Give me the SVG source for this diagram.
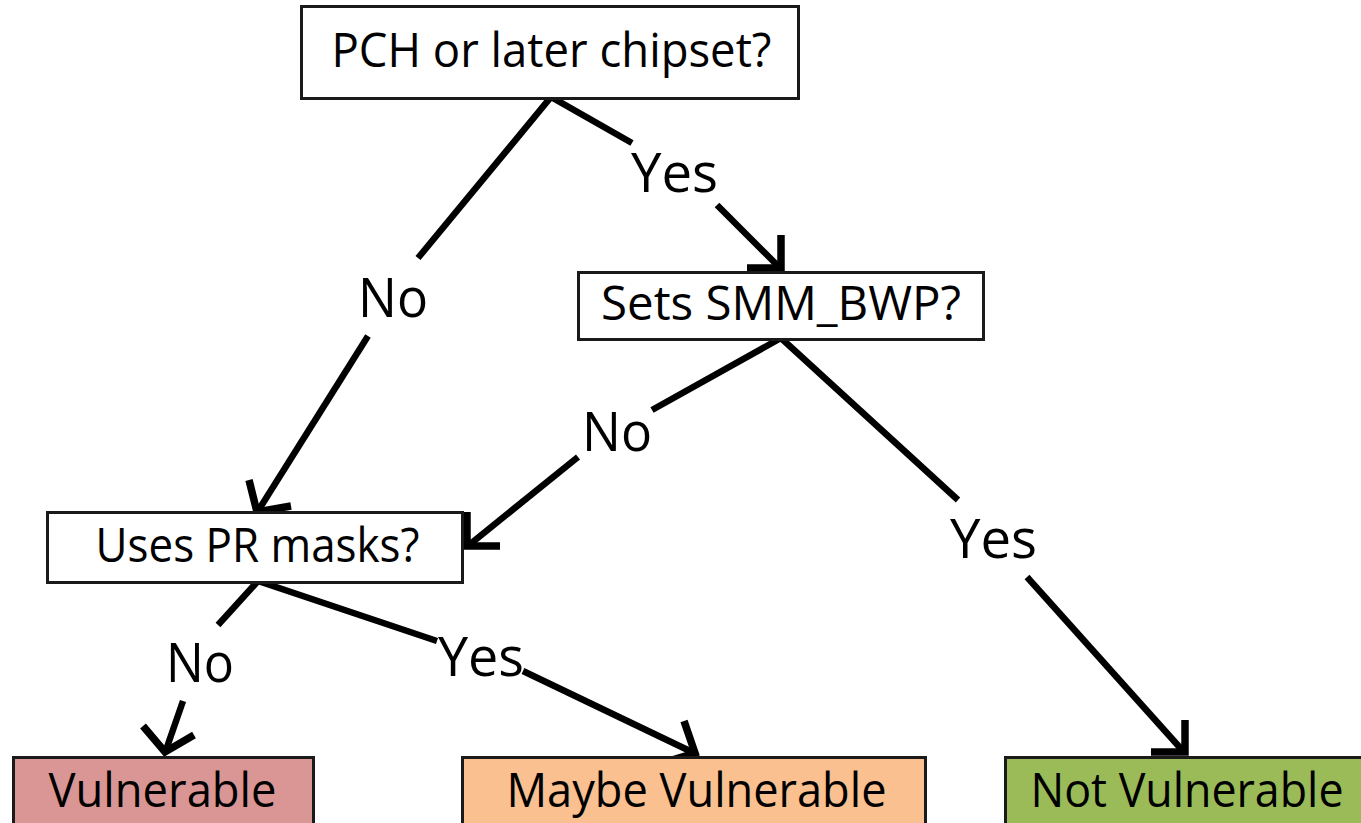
<svg xmlns="http://www.w3.org/2000/svg" width="1361" height="823" viewBox="0 0 1361 823">
  <style>
    .box { stroke: #1a1a1a; stroke-width: 3; }
    .q { fill: #ffffff; }
    .txt { font-family: "Open Sans", "Liberation Sans", sans-serif; font-size: 47px; fill: #000; }
    .lbl { font-family: "Open Sans", "Liberation Sans", sans-serif; font-size: 54px; fill: #000; }
    .wire { fill: none; stroke: #000; stroke-width: 6.5; stroke-linejoin: miter; stroke-linecap: butt; }
    .head { fill: none; stroke: #000; stroke-width: 7.5; stroke-linejoin: miter; stroke-miterlimit: 10; stroke-linecap: butt; }
  </style>

  <rect width="1361" height="823" fill="#ffffff"/>

  <!-- connectors -->
  <g id="connectors">
    <!-- from "PCH or later chipset?" -->
    <path class="wire" d="M418,258 L551,97 L632,143"/>
    <path class="wire" d="M368,336 L258,511"/>
    <path class="head" d="M291,506 L257,512 L249,480"/>
    <path class="wire" d="M717,205 L780,268"/>
    <path class="head" d="M781,235 L781,268 L747,268"/>
    <!-- from "Sets SMM_BWP?" -->
    <path class="wire" d="M652,410 L781,338 L958,500"/>
    <path class="wire" d="M578,457 L469,545"/>
    <path class="head" d="M467,512 L467,546 L500,546"/>
    <path class="wire" d="M1027,577 L1183,751"/>
    <path class="head" d="M1185,720 L1185,752 L1151,752"/>
    <!-- from "Uses PR masks?" -->
    <path class="wire" d="M218,625 L258,581 L437,641"/>
    <path class="wire" d="M183,701 L166,750"/>
    <path class="head" d="M143,726 L165,752 L194,735"/>
    <path class="wire" d="M523,671 L692,752"/>
    <path class="head" d="M684,721 L695,753 L662,763"/>
    <!-- edge labels -->
    <text class="lbl" x="358" y="317" textLength="70" lengthAdjust="spacingAndGlyphs">No</text>
    <text class="lbl" x="631" y="192" textLength="87" lengthAdjust="spacingAndGlyphs">Yes</text>
    <text class="lbl" x="582" y="451" textLength="70" lengthAdjust="spacingAndGlyphs">No</text>
    <text class="lbl" x="950" y="558" textLength="87" lengthAdjust="spacingAndGlyphs">Yes</text>
    <text class="lbl" x="166" y="682" textLength="68" lengthAdjust="spacingAndGlyphs">No</text>
    <text class="lbl" x="438" y="676" textLength="86" lengthAdjust="spacingAndGlyphs">Yes</text>
  </g>

  <!-- decision nodes -->
  <g id="pch">
    <rect class="box q" x="301.5" y="6.5" width="497" height="92"/>
    <text class="txt" x="551.5" y="67" text-anchor="middle" textLength="440" lengthAdjust="spacingAndGlyphs">PCH or later chipset?</text>
  </g>
  <g id="smm-bwp">
    <rect class="box q" x="578.5" y="272.5" width="405" height="67"/>
    <text class="txt" x="781" y="320" text-anchor="middle" textLength="360" lengthAdjust="spacingAndGlyphs">Sets SMM_BWP?</text>
  </g>
  <g id="pr-masks">
    <rect class="box q" x="47.5" y="512.5" width="415" height="70"/>
    <text class="txt" x="257.5" y="562" text-anchor="middle" textLength="324" lengthAdjust="spacingAndGlyphs">Uses PR masks?</text>
  </g>

  <!-- outcome nodes -->
  <g id="vulnerable">
    <rect class="box" x="13.5" y="757.5" width="300" height="100" fill="#d99694"/>
    <text class="txt" x="162.5" y="807" text-anchor="middle" textLength="228" lengthAdjust="spacingAndGlyphs">Vulnerable</text>
  </g>
  <g id="maybe-vulnerable">
    <rect class="box" x="462.5" y="757.5" width="463" height="100" fill="#fac090"/>
    <text class="txt" x="696.5" y="807" text-anchor="middle" textLength="380" lengthAdjust="spacingAndGlyphs">Maybe Vulnerable</text>
  </g>
  <g id="not-vulnerable">
    <rect class="box" x="1005.5" y="757.5" width="400" height="100" fill="#9bbb59"/>
    <text class="txt" x="1187" y="807" text-anchor="middle" textLength="313" lengthAdjust="spacingAndGlyphs">Not Vulnerable</text>
  </g>
</svg>
